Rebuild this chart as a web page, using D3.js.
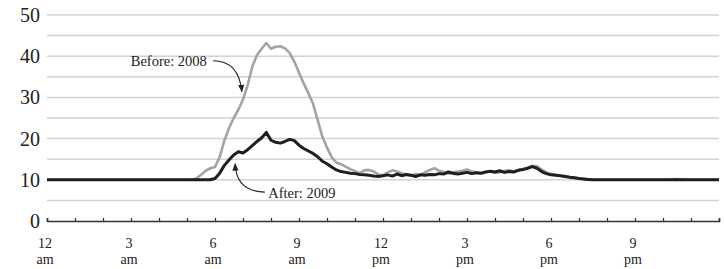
<!DOCTYPE html>
<html>
<head>
<meta charset="utf-8">
<script src="https://cdn.jsdelivr.net/npm/d3@7"></script>
<style>
  body { margin: 0; background: #fff; }
  svg { display: block; font-family: "Liberation Serif", "DejaVu Serif", serif; }
</style>
</head>
<body>
<svg id="chart" width="724" height="269"></svg>
<script>
// readings every 10 minutes, 12 am to 12 am (145 points)
const stepMinutes = 10;

const before2008 = [
  10, 10, 10, 10, 10, 10,
  10, 10, 10, 10, 10, 10,
  10, 10, 10, 10, 10, 10,
  10, 10, 10, 10, 10, 10,
  10, 10, 10, 10, 10, 10,
  10, 10, 10.3, 11.2, 12.2, 12.8,
  13.1, 15.5, 19.5, 22.5, 25, 27,
  29.5, 33, 37.5, 40.3, 41.8, 43.2,
  41.8, 42.3, 42.4, 41.9, 40.8, 38.7,
  36, 33.4, 31, 28.5, 24.5, 20.5,
  17.8, 15.5, 14.2, 13.8, 13.2, 12.6,
  12.1, 11.6, 12.3, 12.4, 12.0, 11.3,
  11.1, 11.8, 12.3, 12.0, 11.6, 11.3,
  11.0, 11.4, 11.2, 11.8, 12.4, 12.8,
  12.2, 11.9, 11.5, 11.8, 12.0, 12.2,
  12.5, 12.0, 11.8, 11.6, 11.9, 12.0,
  11.7, 11.8, 12.2, 12.3, 12.0, 12.4,
  12.6, 12.9, 13.4, 13.3, 12.5, 11.8,
  11.4, 11.2, 11.0, 10.9, 10.7, 10.5,
  10.3, 10.2, 10.1, 10.0, 10, 10,
  10, 10, 10, 10, 10, 10,
  10, 10, 10, 10, 10, 10,
  10, 10, 10.1, 10.2, 10.1, 10,
  10, 10, 10, 10, 10, 10,
  10
];

const after2009 = [
  10, 10, 10, 10, 10, 10,
  10, 10, 10, 10, 10, 10,
  10, 10, 10, 10, 10, 10,
  10, 10, 10, 10, 10, 10,
  10, 10, 10, 10, 10, 10,
  10, 10, 10, 10, 10, 10,
  10.3, 11.6, 13.5, 14.8, 16, 16.8,
  16.5, 17.3, 18.3, 19.3, 20.2, 21.5,
  19.6, 19.1, 18.9, 19.3, 19.8, 19.5,
  18.4, 17.6, 17, 16.4, 15.6, 14.5,
  13.9, 13.1, 12.4, 12, 11.8, 11.6,
  11.5, 11.3, 11.2, 11.1, 10.9, 10.8,
  11.0, 11.2, 10.9, 11.4, 11.0, 11.3,
  11.1, 10.8, 11.2, 11.1, 11.3, 11.2,
  11.5, 11.4, 11.9, 11.6, 11.4, 11.6,
  11.8, 11.5, 11.7, 11.6, 11.9, 12.1,
  11.9, 12.2, 11.8, 12.0, 11.9, 12.3,
  12.5, 12.8, 13.2, 12.8, 12.0, 11.5,
  11.2, 11.1, 11.0, 10.8, 10.6, 10.5,
  10.3, 10.2, 10.1, 10, 10, 10,
  10, 10, 10, 10, 10, 10,
  10, 10, 10, 10, 10, 10,
  10, 10, 10, 10, 10, 10,
  10, 10, 10, 10, 10, 10,
  10
];

const yLabels = [0, 10, 20, 30, 40, 50];
const gridValues = [5, 10, 15, 20, 25, 30, 35, 40, 45, 50];
const tickHours = [0, 3, 6, 9, 12, 15, 18, 21];
const tickTop = ["12", "3", "6", "9", "12", "3", "6", "9"];
const tickBottom = ["am", "am", "am", "am", "pm", "pm", "pm", "pm"];

const svg = d3.select("#chart");
const x = d3.scaleLinear().domain([0, 24]).range([47, 719]);
const y = d3.scaleLinear().domain([0, 50]).range([221, 15]);

// gridlines
svg.append("g")
  .selectAll("line")
  .data(gridValues)
  .join("line")
  .attr("x1", x(0)).attr("x2", x(24))
  .attr("y1", d => y(d)).attr("y2", d => y(d))
  .attr("stroke", "#d2d2d2")
  .attr("stroke-width", 1.5);

// y labels
svg.append("g")
  .selectAll("text")
  .data(yLabels)
  .join("text")
  .attr("x", 40)
  .attr("y", d => y(d))
  .attr("dy", "0.35em")
  .attr("text-anchor", "end")
  .style("font-size", "20px")
  .style("fill", "#222")
  .text(d => d);

// x axis line + hourly ticks
const xAxis = svg.append("g")
  .attr("transform", `translate(0,${y(0)})`)
  .call(d3.axisBottom(x).tickValues(d3.range(0, 25)).tickSize(-3).tickFormat(""));
xAxis.select(".domain").attr("stroke", "#333").attr("stroke-width", 1.6);
xAxis.selectAll(".tick line").attr("stroke", "#333").attr("stroke-width", 1.2);

const xl = svg.append("g")
  .selectAll("g")
  .data(tickHours)
  .join("g")
  .attr("transform", d => `translate(${x(d) - 2},0)`);
xl.append("text")
  .attr("y", 248)
  .attr("text-anchor", "middle")
  .style("font-size", "14px")
  .style("fill", "#222")
  .text((d, i) => tickTop[i]);
xl.append("text")
  .attr("y", 264)
  .attr("text-anchor", "middle")
  .style("font-size", "14px")
  .style("fill", "#222")
  .text((d, i) => tickBottom[i]);

// lines
const line = d3.line()
  .x((d, i) => x(i * stepMinutes / 60))
  .y(d => y(d));

svg.append("path")
  .datum(before2008)
  .attr("fill", "none")
  .attr("stroke", "#a3a3a3")
  .attr("stroke-width", 2.6)
  .attr("stroke-linejoin", "round")
  .attr("d", line);

svg.append("path")
  .datum(after2009)
  .attr("fill", "none")
  .attr("stroke", "#1e1e1e")
  .attr("stroke-width", 3)
  .attr("stroke-linejoin", "round")
  .attr("d", line);

// annotations
svg.append("defs").append("marker")
  .attr("id", "arrow")
  .attr("viewBox", "0 0 10 10")
  .attr("refX", 9).attr("refY", 5)
  .attr("markerWidth", 7).attr("markerHeight", 7)
  .attr("orient", "auto")
  .append("path")
  .attr("d", "M0,1 L10,5 L0,9 Z")
  .attr("fill", "#222");

svg.append("text")
  .attr("x", x(5.71)).attr("y", y(37.7))
  .attr("text-anchor", "end")
  .style("font-size", "14.5px")
  .style("fill", "#222")
  .text("Before: 2008");

svg.append("path")
  .attr("d", `M${x(5.93)},${y(38.9)} Q${x(6.85)},${y(38.9)} ${x(6.96)},${y(31.4)}`)
  .attr("fill", "none")
  .attr("stroke", "#222")
  .attr("stroke-width", 1.1)
  .attr("marker-end", "url(#arrow)");

svg.append("text")
  .attr("x", x(7.9)).attr("y", y(5.7))
  .style("font-size", "14.5px")
  .style("fill", "#222")
  .text("After: 2009");

svg.append("path")
  .attr("d", `M${x(7.78)},${y(7.0)} Q${x(6.75)},${y(7.2)} ${x(6.72)},${y(13.9)}`)
  .attr("fill", "none")
  .attr("stroke", "#222")
  .attr("stroke-width", 1.1)
  .attr("marker-end", "url(#arrow)");
</script>
</body>
</html>
